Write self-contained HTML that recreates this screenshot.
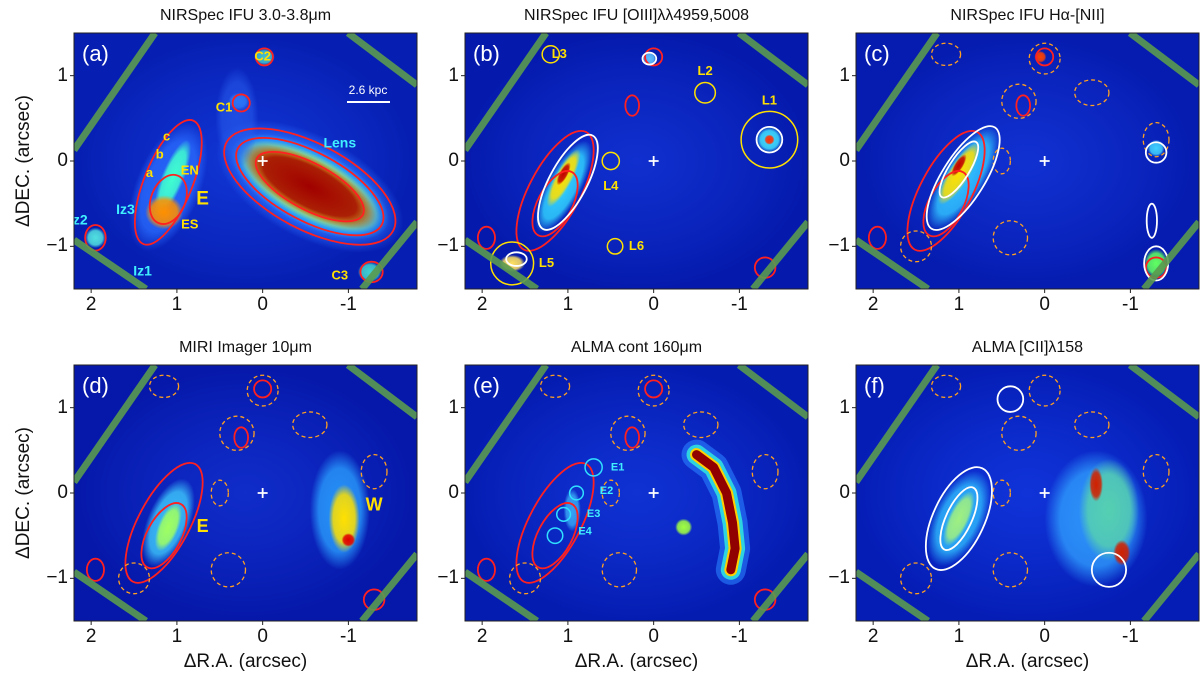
<!DOCTYPE html>
<html><head><meta charset="utf-8">
<style>
body{margin:0;background:#fff;width:1200px;height:683px;overflow:hidden;position:relative;font-family:"Liberation Sans","DejaVu Sans",sans-serif}
.t{position:absolute;font-size:16px;color:#111;white-space:nowrap;transform:translateX(-50%)}
.tl{position:absolute;font-size:19px;color:#111;transform:translate(-50%,0)}
.yl{position:absolute;font-size:19px;color:#111;transform:translate(-100%,-50%)}
.ax{position:absolute;font-size:19px;color:#111;white-space:nowrap}
svg.p{position:absolute;overflow:visible}
</style></head><body>
<div id="root"></div>
<script>
const colsX=[74,465,856], rowsY=[33,365], PW=343, PH=256;
const titles=["NIRSpec IFU 3.0-3.8\u03bcm","NIRSpec IFU [OIII]\u03bb\u03bb4959,5008","NIRSpec IFU H\u03b1-[NII]","MIRI Imager 10\u03bcm","ALMA cont 160\u03bcm","ALMA [CII]\u03bb158"];
const tags=["(a)","(b)","(c)","(d)","(e)","(f)"];
const xTicks=[2,1,0,-1], yTicks=[1,0,-1];
// blobs: [x,y,rx,ry,angle,color,opacity]
const blobsA=[[-0.55,-0.3,1.2,0.6,28,"#2a70ff",1],[1.1,-0.3,0.38,0.8,22,"#2a6cff",0.9],[-0.55,-0.3,1.02,0.44,28,"#30e8ff",1],[-0.55,-0.3,0.92,0.37,28,"#ffd000",1],[-0.55,-0.3,0.86,0.32,28,"#a00000",1],[1.05,-0.2,0.13,0.48,22,"#40ffd0",1],[1.15,-0.6,0.22,0.2,0,"#ff9000",1],[1.95,-0.9,0.12,0.12,0,"#50e0e0",1],[-0.02,1.22,0.12,0.1,0,"#40c0d0",1],[0.28,0.7,0.12,0.1,0,"#3090ff",1],[-1.25,-1.3,0.14,0.12,0,"#40d0d0",1],[0.3,0.5,0.25,0.6,0,"#2a60f0",0.6]];
const blobsB=[[1.05,-0.3,0.2,0.6,28,"#30d0ff",1],[1.05,-0.2,0.1,0.38,28,"#ffe000",1],[1.05,-0.15,0.05,0.15,28,"#c00000",1],[1.65,-1.2,0.15,0.1,0,"#ffe060",1],[-1.35,0.25,0.15,0.15,0,"#40e0ff",1],[-1.35,0.25,0.06,0.06,0,"#ff3000",1],[0.05,1.2,0.08,0.08,0,"#60c0ff",1]];
const blobsC=[[0.95,-0.2,0.25,0.7,32,"#30c0ff",1],[1.0,-0.15,0.12,0.42,32,"#ffe000",1],[1.0,-0.05,0.05,0.15,32,"#c00000",1],[-1.3,-1.2,0.14,0.17,0,"#60ff60",1],[-1.3,0.15,0.1,0.1,0,"#40d0ff",1],[0.05,1.22,0.07,0.07,0,"#ff4000",1]];
const blobsD=[[-0.9,-0.2,0.35,0.7,0,"#2aa0ff",0.9],[-0.95,-0.3,0.18,0.4,0,"#ffe000",1],[-1.0,-0.55,0.08,0.08,0,"#e00000",1],[1.1,-0.35,0.25,0.55,22,"#40d0ff",0.9],[1.1,-0.4,0.12,0.3,22,"#a0ff60",1]];
const blobsE=[[-0.35,-0.4,0.1,0.1,0,"#a0ff40",1],[0.95,-0.2,0.1,0.25,0,"#40c0ff",0.8]];
const blobsF=[[-0.6,-0.3,0.6,0.8,0,"#30a0ff",0.9],[-0.75,-0.2,0.35,0.6,0,"#60e0a0",0.8],[-0.6,0.1,0.08,0.2,0,"#d02000",1],[-0.9,-0.7,0.1,0.15,0,"#d02000",1],[1.0,-0.3,0.3,0.6,25,"#30c0ff",0.9],[1.0,-0.3,0.12,0.35,25,"#a0f080",1]];
// ALMA continuum arc ridge (arcsec)
const arcX=[-0.5,-0.7,-0.85,-0.92,-0.95,-0.9];
const arcY=[0.45,0.3,0.0,-0.35,-0.65,-0.9];
// contours: [x,y,rx,ry,angle,color,dashed]
const consA=[[-0.55,-0.3,1.1,0.5,28,"#ff2020",0],[-0.55,-0.3,0.95,0.4,28,"#ff2020",0],[-0.55,-0.3,0.7,0.27,28,"#ff2020",0],[1.1,-0.25,0.28,0.78,22,"#ff2020",0],[1.1,-0.45,0.2,0.3,22,"#ff2020",0],[1.95,-0.9,0.12,0.15,0,"#ff2020",0],[-0.02,1.22,0.1,0.1,0,"#ff2020",0],[0.25,0.68,0.1,0.1,0,"#ff2020",0],[-1.27,-1.3,0.13,0.12,0,"#ff2020",0]];
const consRed=[[1.15,-0.35,0.3,0.78,28,"#ff2020",0],[1.15,-0.5,0.2,0.42,28,"#ff2020",0],[1.95,-0.9,0.1,0.13,0,"#ff2020",0],[0.0,1.22,0.1,0.1,0,"#ff2020",0],[0.25,0.65,0.08,0.12,0,"#ff2020",0],[-1.3,-1.25,0.12,0.12,0,"#ff2020",0]];
const consOr=[[1.15,1.25,0.17,0.13,0,"#ffa020",1],[0.3,0.7,0.2,0.2,0,"#ffa020",1],[-0.55,0.8,0.2,0.15,0,"#ffa020",1],[-1.3,0.25,0.15,0.2,0,"#ffa020",1],[0.5,0.0,0.1,0.15,0,"#ffa020",1],[0.4,-0.9,0.2,0.2,0,"#ffa020",1],[1.5,-1.0,0.18,0.18,0,"#ffa020",1],[0.0,1.2,0.18,0.18,0,"#ffa020",1]];
const consWhB=[[1.0,-0.25,0.22,0.62,28,"#ffffff",0],[1.6,-1.15,0.12,0.08,0,"#ffffff",0],[-1.35,0.25,0.15,0.15,0,"#ffffff",0],[0.05,1.2,0.08,0.07,0,"#ffffff",0]];
const consWhC=[[0.95,-0.2,0.25,0.7,32,"#ffffff",0],[1.0,-0.1,0.12,0.38,32,"#ffffff",0],[-1.3,0.1,0.12,0.12,0,"#ffffff",0],[-1.3,-1.2,0.14,0.2,0,"#ffffff",0],[-1.25,-0.7,0.06,0.2,0,"#ffffff",0]];
const consWhF=[[1.0,-0.3,0.3,0.65,25,"#ffffff",0],[1.0,-0.3,0.15,0.4,25,"#ffffff",0],[0.4,1.1,0.15,0.15,0,"#ffffff",0],[-0.75,-0.9,0.2,0.2,0,"#ffffff",0]];
const panels=[
 {b:blobsA,c:consA},{b:blobsB,c:consRed.concat(consWhB)},{b:blobsC,c:consRed.concat(consOr,consWhC)},
 {b:blobsD,c:consRed.concat(consOr)},{b:blobsE,c:consRed.concat(consOr)},{b:blobsF,c:consOr.concat(consWhF)}];
const labs=[
 [[0.0,1.22,"C2","#ffe000",13],[0.45,0.62,"C1","#ffe000",13],[1.12,0.28,"c","#ffe000",13],[1.2,0.07,"b","#ffe000",13],[1.32,-0.15,"a","#ffe000",13],[0.85,-0.12,"EN","#ffe000",13],[0.7,-0.45,"E","#ffe000",19],[0.85,-0.75,"ES","#ffe000",13],[1.6,-0.58,"Iz3","#40f0ff",14],[2.15,-0.7,"Iz2","#40f0ff",14],[1.4,-1.3,"Iz1","#40f0ff",14],[-0.9,0.2,"Lens","#40f0ff",14],[-0.9,-1.35,"C3","#ffe000",13]],
 [[1.1,1.25,"L3","#ffe000",13],[-0.6,1.05,"L2","#ffe000",13],[-1.35,0.7,"L1","#ffe000",13],[0.5,-0.3,"L4","#ffe000",13],[0.2,-1.0,"L6","#ffe000",13],[1.25,-1.2,"L5","#ffe000",13]],
 [],[[0.7,-0.4,"E","#ffe000",18],[-1.3,-0.15,"W","#ffe000",18]],
 [[0.42,0.3,"E1","#40f0ff",11],[0.55,0.02,"E2","#40f0ff",11],[0.7,-0.25,"E3","#40f0ff",11],[0.8,-0.45,"E4","#40f0ff",11]],[]];
const circs=[[],[[-1.35,0.25,0.33,"#ffe000"],[-0.6,0.8,0.12,"#ffe000"],[1.2,1.25,0.1,"#ffe000"],[0.5,0.0,0.1,"#ffe000"],[1.65,-1.2,0.25,"#ffe000"],[0.45,-1.0,0.09,"#ffe000"]],[],[],
 [[0.7,0.3,0.1,"#30e0ff"],[0.9,0.0,0.08,"#30e0ff"],[1.05,-0.25,0.08,"#30e0ff"],[1.15,-0.5,0.09,"#30e0ff"]],[]];
const bgs=["#0c2cc8","#0a24c0","#0b26c4","#0a1fb8","#0a28c8","#0a2ad0"];

const NS="http://www.w3.org/2000/svg";
const root=document.getElementById('root');
function sx(x){return (2.2-x)/4*PW;}
function sy(y){return (1.5-y)/3*PH;}
function mk(tag,attrs,parent){const e=document.createElementNS(NS,tag);for(const k in attrs)e.setAttribute(k,attrs[k]);parent.appendChild(e);return e;}
function div(cls,txt,x,y,parent){const d=document.createElement('div');d.className=cls;d.textContent=txt;d.style.left=x+'px';d.style.top=y+'px';parent.appendChild(d);return d;}

panels.forEach((P,i)=>{
 const ox=colsX[i%3], oy=rowsY[Math.floor(i/3)];
 const t=div('t',titles[i],ox+PW/2,oy-26,root);
 
 
 const s=document.createElementNS(NS,'svg');
 s.setAttribute('class','p');s.setAttribute('width',PW);s.setAttribute('height',PH);
 s.style.left=ox+'px';s.style.top=oy+'px';
 
 
 root.appendChild(s);
 const defs=mk('defs',{},s);
 const cp=mk('clipPath',{id:'cp'+i},defs);mk('rect',{x:0,y:0,width:PW,height:PH},cp);
 const g=mk('g',{'clip-path':'url(#cp'+i+')'},s);
 mk('rect',{x:0,y:0,width:PW,height:PH,fill:bgs[i]},g);
 const vg=mk('radialGradient',{id:'vg'+i},defs);
 mk('stop',{offset:'0','stop-color':'#1a44e8','stop-opacity':'0.35'},vg);
 mk('stop',{offset:'1','stop-color':'#00109a','stop-opacity':'0.5'},vg);
 mk('rect',{x:0,y:0,width:PW,height:PH,fill:'url(#vg'+i+')'},g);
 if(i===4){
  let d='';
  arcX.forEach((x,k)=>{d+=(k?'L':'M')+sx(x)+','+sy(arcY[k]);});
  [[30,'#2a80ff',0.6],[20,'#30e0e0',0.9],[13,'#ffd000',1],[9,'#900000',1]].forEach(st=>{
   const a=mk('path',{d:d,fill:'none',stroke:st[1],'stroke-width':st[0],'stroke-opacity':st[2],'stroke-linecap':'round','stroke-linejoin':'round'},g);
   
   
  });
 }
 P.b.forEach((b,j)=>{
  const gid='g'+i+'_'+j;
  const rg=mk('radialGradient',{id:gid},defs);
  mk('stop',{offset:'0','stop-color':b[5],'stop-opacity':b[6]},rg);
  mk('stop',{offset:'0.7','stop-color':b[5],'stop-opacity':b[6]*0.85},rg);
  mk('stop',{offset:'1','stop-color':b[5],'stop-opacity':0},rg);
  const e=mk('ellipse',{cx:0,cy:0,rx:b[2]*PW/4,ry:b[3]*PH/3,fill:'url(#'+gid+')',transform:`translate(${sx(b[0])},${sy(b[1])}) rotate(${b[4]})`},g);
  
  
 });
 P.c.forEach(c=>{
  const e=mk('ellipse',{cx:0,cy:0,rx:c[2]*PW/4,ry:c[3]*PH/3,fill:'none',stroke:c[5],'stroke-width':c[6]?1.3:1.8,'stroke-dasharray':c[6]?'4,3':'none',transform:`translate(${sx(c[0])},${sy(c[1])}) rotate(${c[4]})`},g);
  
  
 });
 circs[i].forEach(c=>{
  const e=mk('circle',{cx:sx(c[0]),cy:sy(c[1]),r:c[2]*PW/4,fill:'none',stroke:c[3],'stroke-width':1.5},g);
  
  
 });
 [[0,117,81,0],[0,207,72,256],[274,0,343,52],[288,256,343,189]].forEach(l=>{
  const e=mk('line',{x1:l[0],y1:l[1],x2:l[2],y2:l[3],stroke:'#5a9a50','stroke-width':7,'stroke-opacity':0.9},g);
  
  
 });
 const cx=sx(0),cy=sy(0);
 const cr=mk('path',{d:`M${cx-5},${cy}H${cx+5}M${cx},${cy-5}V${cy+5}`,stroke:'#fff','stroke-width':1.8},g);
 
 
 labs[i].forEach(L=>{
  const e=mk('text',{x:sx(L[0]),y:sy(L[1]),fill:L[3],'font-size':L[4],'font-weight':'bold','font-family':'Liberation Sans, sans-serif','text-anchor':'middle','dominant-baseline':'middle'},g);
  e.textContent=L[2];
  
  
 });
 const tg=mk('text',{x:8,y:28,fill:'#fff','font-size':22,'font-family':'Liberation Sans, sans-serif'},g);
 tg.textContent=tags[i];
 
 
 if(i===0){
  const sb=mk('line',{x1:273,y1:69,x2:316,y2:69,stroke:'#fff','stroke-width':2},g);
  
  
  const st=mk('text',{x:294,y:61,fill:'#fff','font-size':12,'text-anchor':'middle','font-family':'Liberation Sans, sans-serif'},g);
  st.textContent='2.6 kpc';
  
  
 }
 const fr=mk('rect',{x:0,y:0,width:PW,height:PH,fill:'none',stroke:'#222','stroke-width':1},s);
 
 
 xTicks.forEach(v=>{
  const x=sx(v);
  mk('line',{x1:x,y1:PH,x2:x,y2:PH+4,stroke:'#222'},s);
  const d=div('tl',v<0?'-1':String(v),ox+x,oy+PH+5,root);
  
  
 });
 yTicks.forEach(v=>{
  const y=sy(v);
  mk('line',{x1:-4,y1:y,x2:0,y2:y,stroke:'#222'},s);
  const d=div('yl',v<0?'\u22121':String(v),ox-6,oy+y,root);
  
  
 });
});
[0,1].forEach(r=>{
 const d=div('ax','\u0394DEC. (arcsec)',24,rowsY[r]+PH/2,root);
 d.style.transform='translate(-50%,-50%) rotate(-90deg)';
 
 
});
colsX.forEach(x=>{
 const d=div('ax','\u0394R.A. (arcsec)',x+PW/2,651,root);
 d.style.transform='translateX(-50%)';
 
 
});
</script>
</body></html>
